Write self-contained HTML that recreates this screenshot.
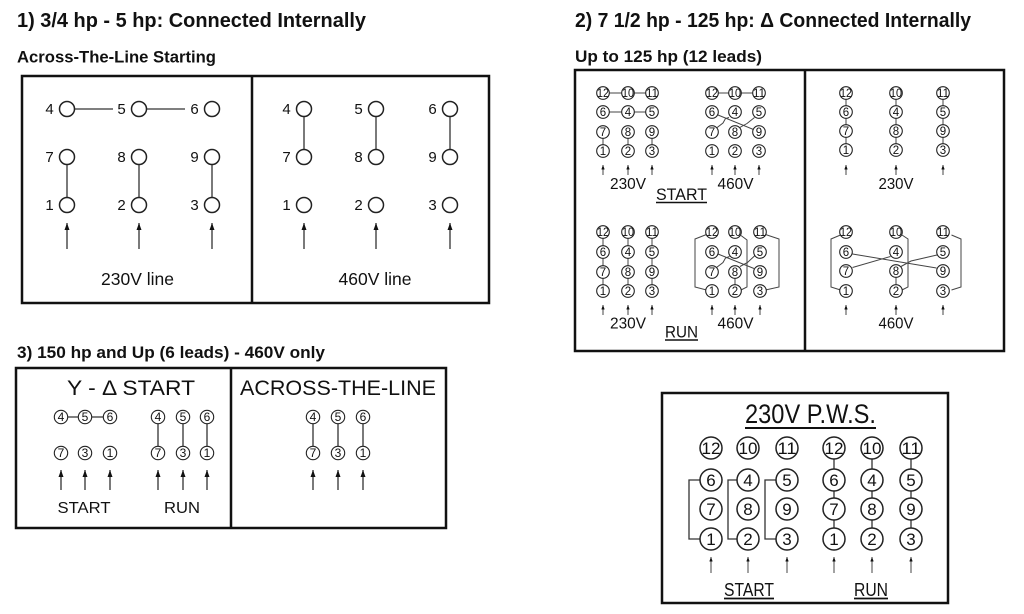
<!DOCTYPE html>
<html><head><meta charset="utf-8"><style>
html,body{margin:0;padding:0;background:#fff;}
svg{display:block;}
text{font-family:"Liberation Sans",Arial,sans-serif;fill:#111;}
.c{fill:#fff;stroke:#222;stroke-width:1.5;}
.cs{fill:#fff;stroke:#222;stroke-width:1.1;}
.l{stroke:#333;stroke-width:1.3;fill:none;}
.ls{stroke:#444;stroke-width:1;fill:none;}
.box{fill:none;stroke:#111;stroke-width:2.5;}
.d15{font-size:15px;text-anchor:middle;}
.d10{font-size:11.5px;text-anchor:middle;}
.d12{font-size:12px;text-anchor:middle;}
.d17{font-size:17px;text-anchor:middle;}
</style></head><body>
<svg width="1024" height="614" viewBox="0 0 1024 614" xmlns="http://www.w3.org/2000/svg">
<defs>
<marker id="ah" markerUnits="userSpaceOnUse" markerWidth="7" markerHeight="5" refX="7" refY="2.5" orient="auto" viewBox="0 0 7 5" preserveAspectRatio="none"><path d="M0,0L7,2.5L0,5z" fill="#111"/></marker>
<marker id="as" markerUnits="userSpaceOnUse" markerWidth="4.5" markerHeight="3.4" refX="4.5" refY="1.7" orient="auto" viewBox="0 0 4.5 3.4" preserveAspectRatio="none"><path d="M0,0L4.5,1.7L0,3.4z" fill="#111"/></marker>
</defs>

<!-- Headings -->
<text x="17" y="27" font-size="20" font-weight="bold" textLength="349" lengthAdjust="spacingAndGlyphs">1)  3/4 hp - 5 hp:  Connected Internally</text>
<text x="17" y="62.5" font-size="17" font-weight="bold" textLength="199" lengthAdjust="spacingAndGlyphs">Across-The-Line Starting</text>
<text x="575" y="27" font-size="20" font-weight="bold" textLength="396" lengthAdjust="spacingAndGlyphs">2)  7 1/2 hp - 125 hp: Δ Connected Internally</text>
<text x="575" y="62" font-size="17" font-weight="bold" textLength="187" lengthAdjust="spacingAndGlyphs">Up to 125 hp (12 leads)</text>
<text x="17" y="358" font-size="17" font-weight="bold" textLength="308" lengthAdjust="spacingAndGlyphs">3) 150 hp and Up (6 leads) - 460V only</text>

<!-- ============ SECTION 1 ============ -->
<rect class="box" x="22" y="76" width="467" height="227"/>
<line class="box" x1="252" y1="76" x2="252" y2="303"/>
<path class="l" d="M74.5,109H113 M146.5,109H185 M67,164.5V197.5 M139,164.5V197.5 M212,164.5V197.5"/>
<g class="c">
<circle cx="67" cy="109" r="7.5"/><circle cx="139" cy="109" r="7.5"/><circle cx="212" cy="109" r="7.5"/>
<circle cx="67" cy="157" r="7.5"/><circle cx="139" cy="157" r="7.5"/><circle cx="212" cy="157" r="7.5"/>
<circle cx="67" cy="205" r="7.5"/><circle cx="139" cy="205" r="7.5"/><circle cx="212" cy="205" r="7.5"/>
</g>
<g class="d15">
<text x="49.5" y="114">4</text><text x="121.5" y="114">5</text><text x="194.5" y="114">6</text>
<text x="49.5" y="162">7</text><text x="121.5" y="162">8</text><text x="194.5" y="162">9</text>
<text x="49.5" y="210">1</text><text x="121.5" y="210">2</text><text x="194.5" y="210">3</text>
</g>
<g class="l" marker-end="url(#ah)">
<line x1="67" y1="249" x2="67" y2="223"/><line x1="139" y1="249" x2="139" y2="223"/><line x1="212" y1="249" x2="212" y2="223"/>
</g>
<text x="137.5" y="285" font-size="17.5" text-anchor="middle">230V line</text>
<path class="l" d="M304,116.5V149.5 M376,116.5V149.5 M450,116.5V149.5"/>
<g class="c">
<circle cx="304" cy="109" r="7.5"/><circle cx="376" cy="109" r="7.5"/><circle cx="450" cy="109" r="7.5"/>
<circle cx="304" cy="157" r="7.5"/><circle cx="376" cy="157" r="7.5"/><circle cx="450" cy="157" r="7.5"/>
<circle cx="304" cy="205" r="7.5"/><circle cx="376" cy="205" r="7.5"/><circle cx="450" cy="205" r="7.5"/>
</g>
<g class="d15">
<text x="286.5" y="114">4</text><text x="358.5" y="114">5</text><text x="432.5" y="114">6</text>
<text x="286.5" y="162">7</text><text x="358.5" y="162">8</text><text x="432.5" y="162">9</text>
<text x="286.5" y="210">1</text><text x="358.5" y="210">2</text><text x="432.5" y="210">3</text>
</g>
<g class="l" marker-end="url(#ah)">
<line x1="304" y1="249" x2="304" y2="223"/><line x1="376" y1="249" x2="376" y2="223"/><line x1="450" y1="249" x2="450" y2="223"/>
</g>
<text x="375" y="285" font-size="17.5" text-anchor="middle">460V line</text>

<!-- ============ SECTION 2 ============ -->
<rect class="box" x="575" y="70" width="429" height="281"/>
<line class="box" x1="805" y1="70" x2="805" y2="351"/>

<!-- START 230V -->
<path class="ls" d="M609.3,93H621.7 M634.3,93H645.7 M609.3,112H621.7 M634.3,112H645.7 M603,138.3V144.7 M628,138.3V144.7 M652,138.3V144.7"/>
<g class="cs">
<circle cx="603" cy="93" r="6.3"/><circle cx="628" cy="93" r="6.3"/><circle cx="652" cy="93" r="6.3"/>
<circle cx="603" cy="112" r="6.3"/><circle cx="628" cy="112" r="6.3"/><circle cx="652" cy="112" r="6.3"/>
<circle cx="603" cy="132" r="6.3"/><circle cx="628" cy="132" r="6.3"/><circle cx="652" cy="132" r="6.3"/>
<circle cx="603" cy="151" r="6.3"/><circle cx="628" cy="151" r="6.3"/><circle cx="652" cy="151" r="6.3"/>
</g>
<g class="d10">
<text x="603" y="97.1" textLength="12" lengthAdjust="spacingAndGlyphs">12</text><text x="628" y="97.1" textLength="12" lengthAdjust="spacingAndGlyphs">10</text><text x="652" y="97.1" textLength="12" lengthAdjust="spacingAndGlyphs">11</text>
<text x="603" y="116.1">6</text><text x="628" y="116.1">4</text><text x="652" y="116.1">5</text>
<text x="603" y="136.1">7</text><text x="628" y="136.1">8</text><text x="652" y="136.1">9</text>
<text x="603" y="155.1">1</text><text x="628" y="155.1">2</text><text x="652" y="155.1">3</text>
</g>
<g class="ls" marker-end="url(#as)">
<line x1="603" y1="175" x2="603" y2="165"/><line x1="628" y1="175" x2="628" y2="165"/><line x1="652" y1="175" x2="652" y2="165"/>
</g>
<text x="628" y="189" font-size="15.5" text-anchor="middle" textLength="36" lengthAdjust="spacingAndGlyphs">230V</text>

<!-- START 460V -->
<path class="ls" d="M718.3,93H728.7 M741.3,93H752.7 M718,115L753.5,129.5 M716.5,128L723,123L725.5,118.5L729,117.5 M754.5,117.5L747,123.5L739.8,127.5"/>
<g class="cs">
<circle cx="712" cy="93" r="6.3"/><circle cx="735" cy="93" r="6.3"/><circle cx="759" cy="93" r="6.3"/>
<circle cx="712" cy="112" r="6.3"/><circle cx="735" cy="112" r="6.3"/><circle cx="759" cy="112" r="6.3"/>
<circle cx="712" cy="132" r="6.3"/><circle cx="735" cy="132" r="6.3"/><circle cx="759" cy="132" r="6.3"/>
<circle cx="712" cy="151" r="6.3"/><circle cx="735" cy="151" r="6.3"/><circle cx="759" cy="151" r="6.3"/>
</g>
<g class="d10">
<text x="712" y="97.1" textLength="12" lengthAdjust="spacingAndGlyphs">12</text><text x="735" y="97.1" textLength="12" lengthAdjust="spacingAndGlyphs">10</text><text x="759" y="97.1" textLength="12" lengthAdjust="spacingAndGlyphs">11</text>
<text x="712" y="116.1">6</text><text x="735" y="116.1">4</text><text x="759" y="116.1">5</text>
<text x="712" y="136.1">7</text><text x="735" y="136.1">8</text><text x="759" y="136.1">9</text>
<text x="712" y="155.1">1</text><text x="735" y="155.1">2</text><text x="759" y="155.1">3</text>
</g>
<g class="ls" marker-end="url(#as)">
<line x1="712" y1="175" x2="712" y2="165"/><line x1="735" y1="175" x2="735" y2="165"/><line x1="759" y1="175" x2="759" y2="165"/>
</g>
<text x="735.5" y="189" font-size="15.5" text-anchor="middle" textLength="36" lengthAdjust="spacingAndGlyphs">460V</text>
<text x="681.5" y="200" font-size="16.5" text-anchor="middle" textLength="51" lengthAdjust="spacingAndGlyphs">START</text>
<line x1="656" y1="202.5" x2="707" y2="202.5" stroke="#111" stroke-width="1.5"/>

<!-- RUN 230V -->
<path class="ls" d="M603,238.3V245.7 M603,258.3V265.7 M603,278.3V284.7 M628,238.3V245.7 M628,258.3V265.7 M628,278.3V284.7 M652,238.3V245.7 M652,258.3V265.7 M652,278.3V284.7"/>
<g class="cs">
<circle cx="603" cy="232" r="6.3"/><circle cx="628" cy="232" r="6.3"/><circle cx="652" cy="232" r="6.3"/>
<circle cx="603" cy="252" r="6.3"/><circle cx="628" cy="252" r="6.3"/><circle cx="652" cy="252" r="6.3"/>
<circle cx="603" cy="272" r="6.3"/><circle cx="628" cy="272" r="6.3"/><circle cx="652" cy="272" r="6.3"/>
<circle cx="603" cy="291" r="6.3"/><circle cx="628" cy="291" r="6.3"/><circle cx="652" cy="291" r="6.3"/>
</g>
<g class="d10">
<text x="603" y="236.1" textLength="12" lengthAdjust="spacingAndGlyphs">12</text><text x="628" y="236.1" textLength="12" lengthAdjust="spacingAndGlyphs">10</text><text x="652" y="236.1" textLength="12" lengthAdjust="spacingAndGlyphs">11</text>
<text x="603" y="256.1">6</text><text x="628" y="256.1">4</text><text x="652" y="256.1">5</text>
<text x="603" y="276.1">7</text><text x="628" y="276.1">8</text><text x="652" y="276.1">9</text>
<text x="603" y="295.1">1</text><text x="628" y="295.1">2</text><text x="652" y="295.1">3</text>
</g>
<g class="ls" marker-end="url(#as)">
<line x1="603" y1="315" x2="603" y2="305"/><line x1="628" y1="315" x2="628" y2="305"/><line x1="652" y1="315" x2="652" y2="305"/>
</g>
<text x="628" y="328.5" font-size="15.5" text-anchor="middle" textLength="36" lengthAdjust="spacingAndGlyphs">230V</text>

<!-- RUN 460V -->
<path class="ls" d="M706.5,234.5L695,239V287L706.5,290 M741,235.5L747,240V287L741,290 M765.5,234.5L779,239V287L765.5,290 M735,278.3V284.7 M718,254L754,268.5 M716.5,267.5L723,262.5L725.5,258L729.5,256.5 M755,255.5L747.5,262.5L740,266.5"/>
<g class="cs">
<circle cx="712" cy="232" r="6.3"/><circle cx="735" cy="232" r="6.3"/><circle cx="760" cy="232" r="6.3"/>
<circle cx="712" cy="252" r="6.3"/><circle cx="735" cy="252" r="6.3"/><circle cx="760" cy="252" r="6.3"/>
<circle cx="712" cy="272" r="6.3"/><circle cx="735" cy="272" r="6.3"/><circle cx="760" cy="272" r="6.3"/>
<circle cx="712" cy="291" r="6.3"/><circle cx="735" cy="291" r="6.3"/><circle cx="760" cy="291" r="6.3"/>
</g>
<g class="d10">
<text x="712" y="236.1" textLength="12" lengthAdjust="spacingAndGlyphs">12</text><text x="735" y="236.1" textLength="12" lengthAdjust="spacingAndGlyphs">10</text><text x="760" y="236.1" textLength="12" lengthAdjust="spacingAndGlyphs">11</text>
<text x="712" y="256.1">6</text><text x="735" y="256.1">4</text><text x="760" y="256.1">5</text>
<text x="712" y="276.1">7</text><text x="735" y="276.1">8</text><text x="760" y="276.1">9</text>
<text x="712" y="295.1">1</text><text x="735" y="295.1">2</text><text x="760" y="295.1">3</text>
</g>
<g class="ls" marker-end="url(#as)">
<line x1="712" y1="315" x2="712" y2="305"/><line x1="735" y1="315" x2="735" y2="305"/><line x1="760" y1="315" x2="760" y2="305"/>
</g>
<text x="735.5" y="328.5" font-size="15.5" text-anchor="middle" textLength="36" lengthAdjust="spacingAndGlyphs">460V</text>
<text x="681.5" y="337.5" font-size="16.5" text-anchor="middle" textLength="33" lengthAdjust="spacingAndGlyphs">RUN</text>
<line x1="665" y1="340" x2="698" y2="340" stroke="#111" stroke-width="1.5"/>

<!-- Right top 230V -->
<path class="ls" d="M846,99.3V105.7 M846,118.3V124.7 M846,137.3V143.7 M896,99.3V105.7 M896,118.3V124.7 M896,137.3V143.7 M943,99.3V105.7 M943,118.3V124.7 M943,137.3V143.7"/>
<g class="cs">
<circle cx="846" cy="93" r="6.3"/><circle cx="896" cy="93" r="6.3"/><circle cx="943" cy="93" r="6.3"/>
<circle cx="846" cy="112" r="6.3"/><circle cx="896" cy="112" r="6.3"/><circle cx="943" cy="112" r="6.3"/>
<circle cx="846" cy="131" r="6.3"/><circle cx="896" cy="131" r="6.3"/><circle cx="943" cy="131" r="6.3"/>
<circle cx="846" cy="150" r="6.3"/><circle cx="896" cy="150" r="6.3"/><circle cx="943" cy="150" r="6.3"/>
</g>
<g class="d10">
<text x="846" y="97.1" textLength="12" lengthAdjust="spacingAndGlyphs">12</text><text x="896" y="97.1" textLength="12" lengthAdjust="spacingAndGlyphs">10</text><text x="943" y="97.1" textLength="12" lengthAdjust="spacingAndGlyphs">11</text>
<text x="846" y="116.1">6</text><text x="896" y="116.1">4</text><text x="943" y="116.1">5</text>
<text x="846" y="135.1">7</text><text x="896" y="135.1">8</text><text x="943" y="135.1">9</text>
<text x="846" y="154.1">1</text><text x="896" y="154.1">2</text><text x="943" y="154.1">3</text>
</g>
<g class="ls" marker-end="url(#as)">
<line x1="846" y1="175" x2="846" y2="165"/><line x1="896" y1="175" x2="896" y2="165"/><line x1="943" y1="175" x2="943" y2="165"/>
</g>
<text x="896" y="189" font-size="15.5" text-anchor="middle" textLength="35" lengthAdjust="spacingAndGlyphs">230V</text>

<!-- Right bottom 460V -->
<path class="ls" d="M840.5,235L831,239V287L840.5,290 M902,235L908,239V287L902,290 M951.5,235L961,239V287L951.5,290 M896,277.3V284.7 M852.5,254L936.5,268 M852.5,267.5L890.5,256.5 M937,255L911,261L901,266.5"/>
<g class="cs">
<circle cx="846" cy="232" r="6.3"/><circle cx="896" cy="232" r="6.3"/><circle cx="943" cy="232" r="6.3"/>
<circle cx="846" cy="252" r="6.3"/><circle cx="896" cy="252" r="6.3"/><circle cx="943" cy="252" r="6.3"/>
<circle cx="846" cy="271" r="6.3"/><circle cx="896" cy="271" r="6.3"/><circle cx="943" cy="271" r="6.3"/>
<circle cx="846" cy="291" r="6.3"/><circle cx="896" cy="291" r="6.3"/><circle cx="943" cy="291" r="6.3"/>
</g>
<g class="d10">
<text x="846" y="236.1" textLength="12" lengthAdjust="spacingAndGlyphs">12</text><text x="896" y="236.1" textLength="12" lengthAdjust="spacingAndGlyphs">10</text><text x="943" y="236.1" textLength="12" lengthAdjust="spacingAndGlyphs">11</text>
<text x="846" y="256.1">6</text><text x="896" y="256.1">4</text><text x="943" y="256.1">5</text>
<text x="846" y="275.1">7</text><text x="896" y="275.1">8</text><text x="943" y="275.1">9</text>
<text x="846" y="295.1">1</text><text x="896" y="295.1">2</text><text x="943" y="295.1">3</text>
</g>
<g class="ls" marker-end="url(#as)">
<line x1="846" y1="315" x2="846" y2="305"/><line x1="896" y1="315" x2="896" y2="305"/><line x1="943" y1="315" x2="943" y2="305"/>
</g>
<text x="896" y="328.5" font-size="15.5" text-anchor="middle" textLength="35" lengthAdjust="spacingAndGlyphs">460V</text>

<!-- ============ SECTION 3 ============ -->
<rect class="box" x="16" y="368" width="430" height="160"/>
<line class="box" x1="231" y1="368" x2="231" y2="528"/>
<text x="131" y="395" font-size="21" text-anchor="middle" textLength="128" lengthAdjust="spacingAndGlyphs">Y - Δ  START</text>
<text x="338" y="395" font-size="21" text-anchor="middle" textLength="196" lengthAdjust="spacingAndGlyphs">ACROSS-THE-LINE</text>
<path class="l" d="M67.7,417H78.3 M91.7,417H103.3 M158,423.7V446.3 M183,423.7V446.3 M207,423.7V446.3 M313,423.7V446.3 M338,423.7V446.3 M363,423.7V446.3"/>
<g class="cs">
<circle cx="61" cy="417" r="6.7"/><circle cx="85" cy="417" r="6.7"/><circle cx="110" cy="417" r="6.7"/>
<circle cx="61" cy="453" r="6.7"/><circle cx="85" cy="453" r="6.7"/><circle cx="110" cy="453" r="6.7"/>
<circle cx="158" cy="417" r="6.7"/><circle cx="183" cy="417" r="6.7"/><circle cx="207" cy="417" r="6.7"/>
<circle cx="158" cy="453" r="6.7"/><circle cx="183" cy="453" r="6.7"/><circle cx="207" cy="453" r="6.7"/>
<circle cx="313" cy="417" r="6.7"/><circle cx="338" cy="417" r="6.7"/><circle cx="363" cy="417" r="6.7"/>
<circle cx="313" cy="453" r="6.7"/><circle cx="338" cy="453" r="6.7"/><circle cx="363" cy="453" r="6.7"/>
</g>
<g class="d12">
<text x="61" y="421.2">4</text><text x="85" y="421.2">5</text><text x="110" y="421.2">6</text>
<text x="61" y="457.2">7</text><text x="85" y="457.2">3</text><text x="110" y="457.2">1</text>
<text x="158" y="421.2">4</text><text x="183" y="421.2">5</text><text x="207" y="421.2">6</text>
<text x="158" y="457.2">7</text><text x="183" y="457.2">3</text><text x="207" y="457.2">1</text>
<text x="313" y="421.2">4</text><text x="338" y="421.2">5</text><text x="363" y="421.2">6</text>
<text x="313" y="457.2">7</text><text x="338" y="457.2">3</text><text x="363" y="457.2">1</text>
</g>
<g class="l" marker-end="url(#ah)">
<line x1="61" y1="490" x2="61" y2="470"/><line x1="85" y1="490" x2="85" y2="470"/><line x1="110" y1="490" x2="110" y2="470"/>
<line x1="158" y1="490" x2="158" y2="470"/><line x1="183" y1="490" x2="183" y2="470"/><line x1="207" y1="490" x2="207" y2="470"/>
<line x1="313" y1="490" x2="313" y2="470"/><line x1="338" y1="490" x2="338" y2="470"/><line x1="363" y1="490" x2="363" y2="470"/>
</g>
<text x="84" y="513" font-size="16" text-anchor="middle" textLength="53" lengthAdjust="spacingAndGlyphs">START</text>
<text x="182" y="513" font-size="16" text-anchor="middle" textLength="36" lengthAdjust="spacingAndGlyphs">RUN</text>

<!-- ============ PWS ============ -->
<rect class="box" x="662" y="393" width="286" height="210"/>
<text x="810.5" y="423" font-size="27" text-anchor="middle" textLength="131" lengthAdjust="spacingAndGlyphs">230V P.W.S.</text>
<line x1="745" y1="428" x2="876" y2="428" stroke="#111" stroke-width="2"/>
<path class="l" d="M700,480H689V539H700 M737,480H728V539H737 M776,480H765V539H776 M834,459V469 M834,491V498 M834,520V528 M872,459V469 M872,491V498 M872,520V528 M911,459V469 M911,491V498 M911,520V528"/>
<g class="c">
<circle cx="711" cy="448" r="11"/><circle cx="748" cy="448" r="11"/><circle cx="787" cy="448" r="11"/>
<circle cx="711" cy="480" r="11"/><circle cx="748" cy="480" r="11"/><circle cx="787" cy="480" r="11"/>
<circle cx="711" cy="509" r="11"/><circle cx="748" cy="509" r="11"/><circle cx="787" cy="509" r="11"/>
<circle cx="711" cy="539" r="11"/><circle cx="748" cy="539" r="11"/><circle cx="787" cy="539" r="11"/>
<circle cx="834" cy="448" r="11"/><circle cx="872" cy="448" r="11"/><circle cx="911" cy="448" r="11"/>
<circle cx="834" cy="480" r="11"/><circle cx="872" cy="480" r="11"/><circle cx="911" cy="480" r="11"/>
<circle cx="834" cy="509" r="11"/><circle cx="872" cy="509" r="11"/><circle cx="911" cy="509" r="11"/>
<circle cx="834" cy="539" r="11"/><circle cx="872" cy="539" r="11"/><circle cx="911" cy="539" r="11"/>
</g>
<g class="d17">
<text x="711" y="454" textLength="19" lengthAdjust="spacingAndGlyphs">12</text><text x="748" y="454" textLength="19" lengthAdjust="spacingAndGlyphs">10</text><text x="787" y="454" textLength="19" lengthAdjust="spacingAndGlyphs">11</text>
<text x="711" y="486">6</text><text x="748" y="486">4</text><text x="787" y="486">5</text>
<text x="711" y="515">7</text><text x="748" y="515">8</text><text x="787" y="515">9</text>
<text x="711" y="545">1</text><text x="748" y="545">2</text><text x="787" y="545">3</text>
<text x="834" y="454" textLength="19" lengthAdjust="spacingAndGlyphs">12</text><text x="872" y="454" textLength="19" lengthAdjust="spacingAndGlyphs">10</text><text x="911" y="454" textLength="19" lengthAdjust="spacingAndGlyphs">11</text>
<text x="834" y="486">6</text><text x="872" y="486">4</text><text x="911" y="486">5</text>
<text x="834" y="515">7</text><text x="872" y="515">8</text><text x="911" y="515">9</text>
<text x="834" y="545">1</text><text x="872" y="545">2</text><text x="911" y="545">3</text>
</g>
<g class="ls" marker-end="url(#as)">
<line x1="711" y1="573" x2="711" y2="557"/><line x1="748" y1="573" x2="748" y2="557"/><line x1="787" y1="573" x2="787" y2="557"/>
<line x1="834" y1="573" x2="834" y2="557"/><line x1="872" y1="573" x2="872" y2="557"/><line x1="911" y1="573" x2="911" y2="557"/>
</g>
<text x="749" y="596" font-size="18" text-anchor="middle" textLength="50" lengthAdjust="spacingAndGlyphs">START</text>
<line x1="724" y1="598.5" x2="774" y2="598.5" stroke="#111" stroke-width="1.8"/>
<text x="871" y="596" font-size="18" text-anchor="middle" textLength="34" lengthAdjust="spacingAndGlyphs">RUN</text>
<line x1="854" y1="598.5" x2="888" y2="598.5" stroke="#111" stroke-width="1.8"/>
</svg>
</body></html>
